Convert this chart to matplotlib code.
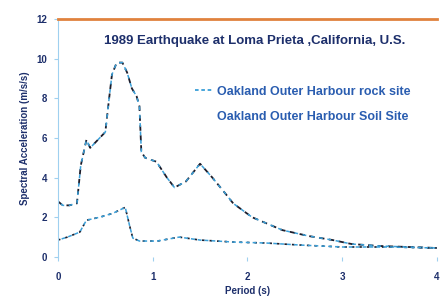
import matplotlib
matplotlib.use("Agg")
import matplotlib.pyplot as plt
from matplotlib.lines import Line2D

plt.rcParams["font.family"] = ["Liberation Sans", "DejaVu Sans"]

# ---- data ----
period_soil = [0.0, 0.05, 0.12, 0.2, 0.24, 0.3, 0.34, 0.42, 0.5, 0.54, 0.57,
               0.62, 0.68, 0.73, 0.78, 0.83, 0.86, 0.88, 0.92, 1.04, 1.15,
               1.23, 1.35, 1.5, 1.63, 1.75, 1.85, 2.05, 2.37, 2.65, 2.9,
               3.1, 3.4, 3.7, 4.0]
acc_soil = [2.8, 2.6, 2.6, 2.7, 4.6, 5.9, 5.5, 5.9, 6.3, 8.0, 9.2,
            9.8, 9.8, 9.3, 8.5, 8.1, 7.6, 5.3, 5.0, 4.8, 4.0,
            3.5, 3.8, 4.7, 4.0, 3.3, 2.7, 2.0, 1.35, 1.05, 0.85,
            0.65, 0.55, 0.5, 0.45]

period_rock = [0.0, 0.1, 0.23, 0.3, 0.44, 0.58, 0.71, 0.76, 0.79, 0.86,
               1.05, 1.28, 1.5, 1.85, 2.2, 2.55, 3.0, 3.5, 4.0]
acc_rock = [0.85, 1.0, 1.25, 1.85, 2.0, 2.2, 2.5, 1.5, 0.95, 0.8,
            0.8, 1.0, 0.85, 0.75, 0.7, 0.6, 0.5, 0.5, 0.45]

x_ticks = [0, 1, 2, 3, 4]
y_ticks = [0, 2, 4, 6, 8, 10, 12]

DARK = "#1c1c2a"
BLUE = "#3a9fd8"
NAVY = "#1d2f6b"

fig = plt.figure(figsize=(4.41, 2.97), dpi=100)
ax = fig.add_axes([0.1315, 0.135, 0.859, 0.801])

# dashed dark line with blue dashes in between
ax.plot(period_soil, acc_soil, color=DARK, lw=1.3, ls=(0, (3, 2.5)))
ax.plot(period_soil, acc_soil, color=BLUE, lw=1.1, ls=(3, (2.5, 3)))
ax.plot(period_rock, acc_rock, color=DARK, lw=1.2, ls=(0, (1.5, 3)))
ax.plot(period_rock, acc_rock, color=BLUE, lw=1.1, ls=(2, (2.5, 2)))

ax.set_xlim(0, 4)
ax.set_ylim(0, 12)
ax.set_xticks(x_ticks)
ax.set_yticks(y_ticks)
ax.tick_params(axis="x", length=3, pad=8, colors=NAVY, labelsize=7, color="#9fd0ef")
ax.tick_params(axis="y", length=3, pad=5, colors=NAVY, labelsize=7, color="#9fd0ef")
for lbl in ax.get_xticklabels() + ax.get_yticklabels():
    lbl.set_fontweight("bold")

for s in ["bottom", "right"]:
    ax.spines[s].set_visible(False)
ax.spines["top"].set_color("#e0823d")
ax.spines["top"].set_linewidth(2)
ax.spines["left"].set_color("#9fd0ef")
ax.spines["left"].set_linewidth(0.8)

ax.set_xlabel("Period (s)", fontsize=7, fontweight="bold", color=NAVY, labelpad=3)
ax.set_ylabel("Spectral Acceleration (m/s/s)", fontsize=7, fontweight="bold",
              color=NAVY, labelpad=4)

ax.text(0.52, 0.908, "1989 Earthquake at Loma Prieta ,California, U.S.",
        transform=ax.transAxes, ha="center", va="center", fontsize=9.5,
        fontweight="bold", color=NAVY)

handles = [Line2D([], [], color=BLUE, lw=1.3, ls=(0, (2, 1.5))),
           Line2D([], [], color="none")]
labels = ["Oakland Outer Harbour rock site", "Oakland Outer Harbour Soil Site"]
leg = ax.legend(handles, labels, loc="upper left", bbox_to_anchor=(0.361, 0.72),
                frameon=False, fontsize=9, labelspacing=1.1, borderpad=0,
                borderaxespad=0, handlelength=1.35, handletextpad=0.4)
for t in leg.get_texts():
    t.set_color("#2a5db0")
    t.set_fontweight("bold")

fig.savefig("out.png", dpi=100)
